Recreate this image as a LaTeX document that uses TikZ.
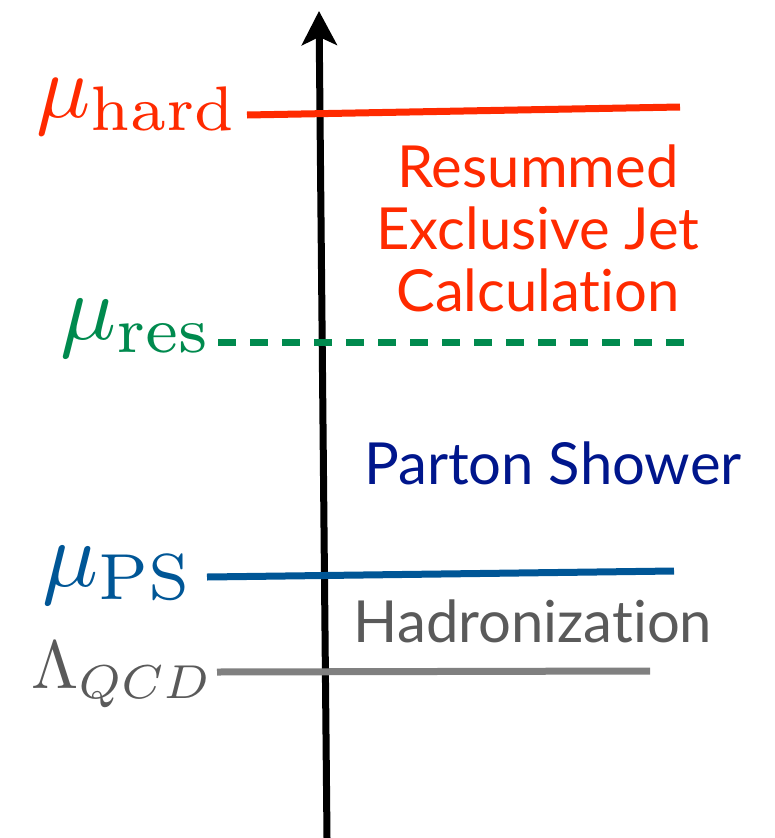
\documentclass[tikz,border=0pt]{standalone}
\usepackage{graphicx}
\usepackage{fontspec}
\usepackage{tikz}
\usetikzlibrary{arrows.meta}
\newfontfamily\gill[Ligatures=NoCommon]{Lato}
\definecolor{scHard}{RGB}{255,42,0}
\definecolor{scRes}{RGB}{0,138,78}
\definecolor{scPS}{RGB}{0,86,150}
\definecolor{scShower}{RGB}{0,22,140}
\definecolor{scHad}{RGB}{90,90,90}
\definecolor{scLam}{RGB}{128,128,128}
\newcommand{\bigscale}[2][9.3]{\scalebox{#1}{$#2$}}

\tikzset{
  lbl/.style={inner sep=0pt},
  region/.style={inner sep=0pt, align=center, font=\gill\fontsize{58}{62}\selectfont},
  level/.style={line width=7pt}
}

\begin{document}
\begin{tikzpicture}[x=1pt, y=-1pt, >=Stealth]
        \useasboundingbox (0,0) rectangle (775,838);
        % scale axis
        \coordinate (bot) at (327,838);
        \coordinate (top) at (319,11);
        \draw[->, line width=7pt, arrows={-Stealth[length=34pt,width=35pt,inset=8pt]}] (bot) -- (top);
        % hard scale
        \node[lbl, scHard, anchor=base east] (hard) at (239,117) {\bigscale[9]{\mu_{\mathrm{hard}}}};
        \coordinate (hardL) at (247,115);
        \coordinate (hardR) at (680,107);
        \draw[level, scHard] (hardL) -- (hardR);
        % resummation scale
        \node[lbl, scRes, anchor=base east] (res) at (213,339) {\bigscale{\mu_{\mathrm{res}}}};
        \coordinate (resL) at (218,342);
        \coordinate (resR) at (685,342);
        \draw[level, scRes, dash pattern=on 18pt off 14pt] (resL) -- (resR);
        % shower cutoff
        \node[lbl, scPS, anchor=base east] (ps) at (194,586) {\bigscale{\mu_{\mathrm{PS}}}};
        \coordinate (psL) at (207,577);
        \coordinate (psR) at (674,571);
        \draw[level, scPS] (psL) -- (psR);
        % QCD scale
        \node[lbl, scHad, anchor=base east] (lam) at (213,688) {\bigscale[6.8]{\Lambda_{QCD}}};
        \coordinate (lamL) at (217,672);
        \coordinate (lamR) at (650,671);
        \draw[level, scLam] (lamL) -- (lamR);
        % regions
        \node[region, scHard, anchor=base] (calc) at (538,311)
          {Resummed\\Exclusive Jet\\Calculation};
        \node[region, scShower, anchor=base] (shower) at (553,484) {Parton Shower};
        \node[region, scHad, anchor=base] (hadr) at (533,642) {Hadronization};
      \end{tikzpicture}
\end{document}
